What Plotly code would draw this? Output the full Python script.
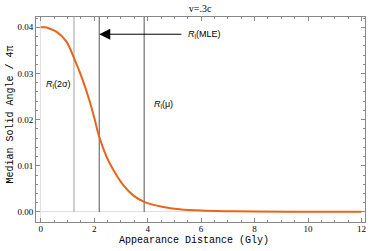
import plotly.graph_objects as go

# Curve data
dist = [0, 0.15, 0.3, 0.6, 0.95, 1.28, 1.57, 1.82, 2.0, 2.19, 2.47, 2.71, 3.09, 3.46, 3.87, 4.58, 5.2, 6, 7, 8, 10, 12]
solid = [0.0400, 0.0400, 0.0398, 0.0390, 0.0370, 0.0329, 0.0286, 0.0242, 0.0205, 0.0163, 0.0119, 0.0092, 0.0058,
         0.0036, 0.0022, 0.0011, 0.0006, 0.0003, 0.00016, 0.0001, 0.00006, 0.00004]

# Marker lines
line_x = [1.245, 2.19, 3.87]
line_colors = ["#a0a0a0", "#555555", "#555555"]
label_texts = ["<i>R</i><sub>l</sub>(2σ)", "<i>R</i><sub>l</sub>(MLE)", "<i>R</i><sub>l</sub>(μ)"]
label_x = [0.12, 5.44, 4.16]
label_y = [0.0277, 0.0385, 0.0233]
arrow_from = 5.32
arrow_y = 0.0385

x_title = "Appearance Distance (Gly)"
y_title = "Median Solid Angle / 4π"
chart_title = "v=.3c"

xr = [-0.175, 12.13]
yr = [-0.00217, 0.04223]

fig = go.Figure()
for lx, c in zip(line_x, line_colors):
    fig.add_trace(go.Scatter(x=[lx, lx], y=[0, yr[1]], mode="lines",
                             line=dict(color=c, width=1), showlegend=False, hoverinfo="skip"))
fig.add_trace(go.Scatter(x=dist, y=solid, mode="lines", line=dict(color="#e8641c", width=2, shape="spline", smoothing=1.0),
                         showlegend=False))

for t, x, y in zip(label_texts, label_x, label_y):
    fig.add_annotation(x=x, y=y, text=t, showarrow=False, xanchor="left", yanchor="middle",
                       font=dict(family="Liberation Sans", size=9, color="black"))

fig.add_annotation(x=line_x[1], y=arrow_y, ax=arrow_from, ay=arrow_y, axref="x", ayref="y",
                   text="", showarrow=True, arrowhead=2, arrowsize=2.2, arrowwidth=1, arrowcolor="black")

mono = dict(family="Courier New, Liberation Mono, monospace", size=10, color="black")
# axis titles as paper annotations
fig.add_annotation(xref="paper", yref="paper", x=(194 - 36) / (374 - 45), y=-(240 - 222) / (251 - 46),
                   text=x_title, showarrow=False, xanchor="center", yanchor="middle", font=mono)
fig.add_annotation(xref="paper", yref="paper", x=-(36 - 10) / (374 - 45), y=(222 - 114.5) / (251 - 46),
                   text=y_title, showarrow=False, xanchor="center", yanchor="middle", textangle=-90, font=mono)

axis_common = dict(showline=True, linecolor="#888", linewidth=1, mirror="allticks", ticks="inside",
                   tickcolor="#888", ticklen=4, showgrid=False, zeroline=True, zerolinecolor="#e0e0e0",
                   zerolinewidth=1, automargin=False,
                   tickfont=dict(family="Times New Roman, Liberation Serif, serif", size=9, color="black"))

fig.update_xaxes(range=xr, tickvals=[0, 2, 4, 6, 8, 10, 12], ticklabelstandoff=-2,
                 minor=dict(dtick=0.5, ticks="inside", ticklen=2, tickcolor="#888"), **axis_common)
fig.update_yaxes(range=yr, tickvals=[0, 0.01, 0.02, 0.03, 0.04], tickformat=".2f",
                 minor=dict(dtick=0.002, ticks="inside", ticklen=2, tickcolor="#888"), **axis_common)

fig.update_layout(width=374, height=251, margin=dict(l=36, r=9, t=17, b=29, autoexpand=False),
                  plot_bgcolor="white", paper_bgcolor="white",
                  title=dict(text=chart_title, x=0.535, xanchor="center", y=0.965, yanchor="middle",
                             font=dict(family="Times New Roman, Liberation Serif, serif", size=10, color="black")))

fig.write_html("out.html", config={"displayModeBar": False},
               post_script="document.body.style.margin='0';document.body.style.padding='0';")
